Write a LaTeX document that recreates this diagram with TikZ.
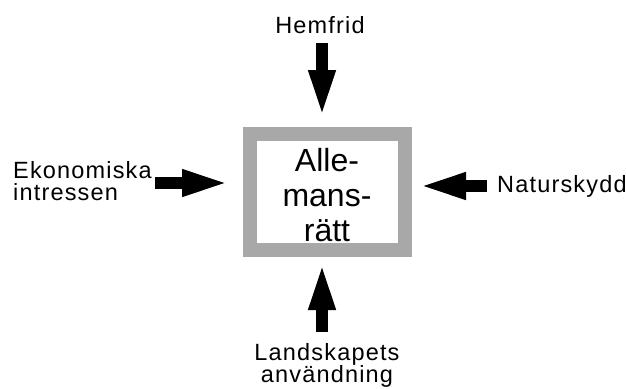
\documentclass[tikz,border=0pt]{standalone}
\usepackage{fontspec}
\setmainfont{Liberation Sans}
\newfontfamily\labfont[LetterSpace=5]{Liberation Sans}
\usetikzlibrary{arrows.meta}
\definecolor{framegray}{HTML}{A8A8A8}
\tikzset{
  lab/.style={font=\labfont\fontsize{23.5}{22}\selectfont, inner sep=0pt},
  fatarrow/.style={line width=11.5pt, -{Triangle[width=24pt,length=48pt]}},
  frame/.style={draw=framegray, fill=white, line width=14pt, minimum width=155.5pt, minimum height=116pt, inner sep=0pt},
}
\begin{document}
\begin{tikzpicture}[x=1pt,y=-1pt]
\useasboundingbox (0,0) rectangle (626,388);
\node[frame] (box) at (327.25,192) {};
\node[font=\fontsize{32}{35}\selectfont, align=center, anchor=base, inner sep=0pt] (allm) at (327,241) {Alle-\\mans-\\rätt};
\node[lab, anchor=base] (hem) at (320,33) {Hemfrid};
\node[lab, anchor=base west, align=left] (eko) at (13,200) {Ekonomiska\\intressen};
\node[lab, anchor=base west] (nat) at (497,192) {Naturskydd};
\node[lab, anchor=base, align=center] (land) at (327,382.5) {Landskapets\\användning};
\coordinate (hs) at (322,43);
\coordinate (he) at (322,118);
\coordinate (es) at (155,183);
\coordinate (ee) at (230,183);
\coordinate (ns) at (487,186);
\coordinate (ne) at (418,186);
\coordinate (ls) at (322,332);
\coordinate (le) at (322,262);
\draw[fatarrow] (hs) -- (he);
\draw[fatarrow] (es) -- (ee);
\draw[fatarrow] (ns) -- (ne);
\draw[fatarrow] (ls) -- (le);
\end{tikzpicture}
\end{document}
